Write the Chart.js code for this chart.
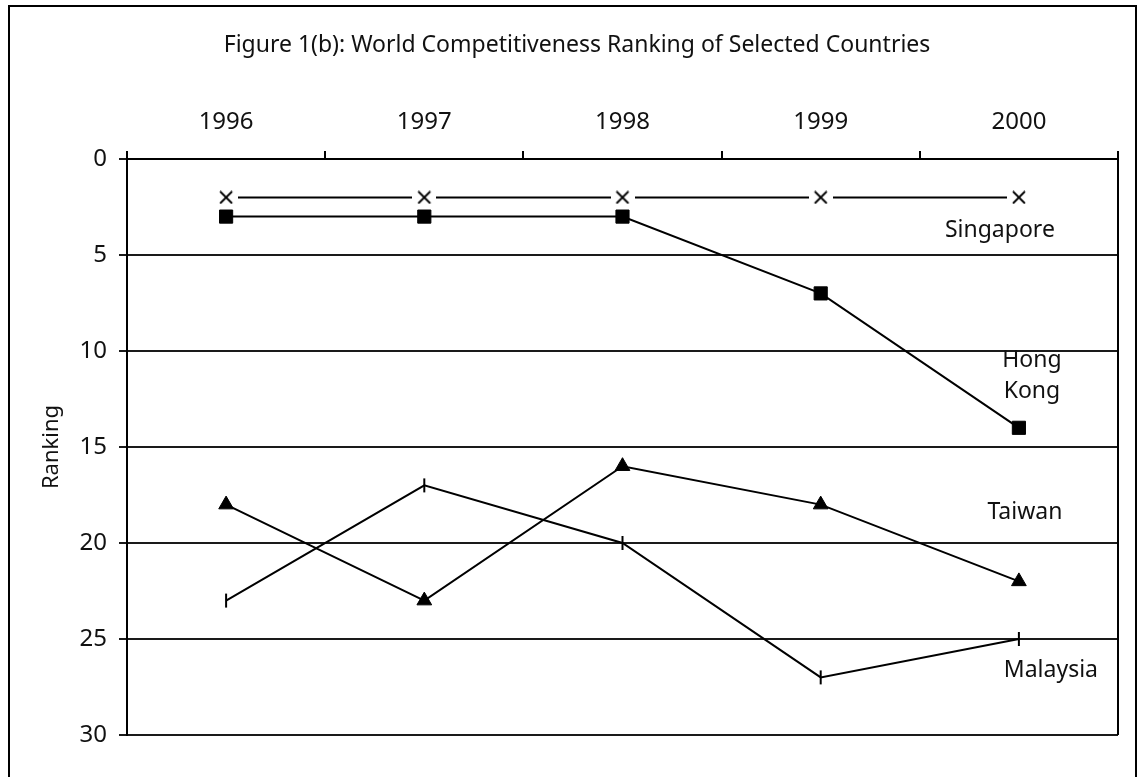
<!DOCTYPE html>
<html>
<head>
<meta charset="utf-8">
<script src="https://cdn.jsdelivr.net/npm/chart.js@4/dist/chart.umd.min.js"></script>
<style>
  html, body { margin: 0; padding: 0; background: #fff; }
  #wrap { width: 1140px; height: 777px; position: relative; }
</style>
</head>
<body>
<div id="wrap"><canvas id="chart" width="1140" height="777"></canvas></div>
<script>
// Categories (years) and ranking per country
const years = ['1996', '1997', '1998', '1999', '2000'];
const singapore = [2, 2, 2, 2, 2];
const hongKong = [3, 3, 3, 7, 14];
const taiwan = [18, 23, 16, 18, 22];
const malaysia = [23, 17, 20, 27, 25];

// Ranking axis range
const rankMin = 0;
const rankMax = 30;
const rankStep = 5;

const chartTitle = 'Figure 1(b): World Competitiveness Ranking of Selected Countries';
const axisTitle = 'Ranking';

// Country names written beside the last point of each line
const seriesNames = [['Singapore'], ['Hong', 'Kong'], ['Taiwan'], ['Malaysia']];

const FONT = '"Noto Sans", "DejaVu Sans", sans-serif';
const INK = '#000';

// Cross marker on a white backing so the line stops short of it
function crossMarker() {
  const c = document.createElement('canvas');
  c.width = 24; c.height = 14;
  const g = c.getContext('2d');
  g.fillStyle = '#fff';
  g.fillRect(0, 0, c.width, c.height);
  g.strokeStyle = INK;
  g.lineWidth = 1.8;
  g.beginPath();
  g.moveTo(12 - 6, 7 - 6); g.lineTo(12 + 6, 7 + 6);
  g.moveTo(12 + 6, 7 - 6); g.lineTo(12 - 6, 7 + 6);
  g.stroke();
  return c;
}

// Outer frame of the figure
const framePlugin = {
  id: 'frame',
  beforeDraw(chart) {
    const ctx = chart.ctx;
    ctx.save();
    ctx.fillStyle = '#fff';
    ctx.fillRect(0, 0, chart.width, chart.height);
    ctx.strokeStyle = INK;
    ctx.lineWidth = 2;
    ctx.strokeRect(9, 6, 1127, 820);
    ctx.restore();
  }
};

// Title, right edge of plot, and country labels
const decorPlugin = {
  id: 'decor',
  afterDatasetsDraw(chart, args, opts) {
    const ctx = chart.ctx;
    const area = chart.chartArea;
    const xs = chart.scales.x, ys = chart.scales.y;
    ctx.save();
    ctx.strokeStyle = INK;
    ctx.lineWidth = 2;
    ctx.beginPath();
    ctx.moveTo(area.right, area.top - 8);
    ctx.lineTo(area.right, area.bottom);
    ctx.stroke();

    ctx.fillStyle = '#111';
    ctx.textAlign = 'center';
    ctx.textBaseline = 'alphabetic';
    ctx.font = '23px ' + FONT;
    ctx.fillText(chartTitle, opts.titleX, opts.titleY);

    opts.labels.forEach((lab, i) => {
      const lines = seriesNames[i];
      const x = xs.getPixelForValue(lab.index) + lab.dx;
      lines.forEach((t, j) => {
        ctx.fillText(t, x, ys.getPixelForValue(lab.at[j]));
      });
    });
    ctx.restore();
  }
};

const lineBase = {
  borderColor: INK,
  backgroundColor: INK,
  borderWidth: 2,
  tension: 0,
  pointBorderColor: INK,
  pointBackgroundColor: INK,
  clip: false
};

new Chart(document.getElementById('chart'), {
  type: 'line',
  data: {
    labels: years,
    datasets: [
      Object.assign({}, lineBase, { label: 'Singapore', data: singapore, pointStyle: crossMarker(), pointRadius: 10 }),
      Object.assign({}, lineBase, { label: 'Hong Kong', data: hongKong, pointStyle: 'rect', pointRadius: 9.3, pointBorderWidth: 1 }),
      Object.assign({}, lineBase, { label: 'Taiwan', data: taiwan, pointStyle: 'triangle', pointRadius: 8.5, pointBorderWidth: 1 }),
      Object.assign({}, lineBase, { label: 'Malaysia', data: malaysia, pointStyle: 'line', pointRotation: 90, pointRadius: 7, pointBorderWidth: 2 })
    ]
  },
  options: {
    responsive: false,
    animation: false,
    devicePixelRatio: 1,
    events: [],
    layout: { padding: { left: 0, top: 0, right: 22, bottom: 42 } },
    plugins: {
      legend: { display: false },
      tooltip: { enabled: false },
      title: { display: false },
      decor: {
        titleX: 577,
        titleY: 52,
        labels: [
          { index: 4, dx: -19, at: [4.06] },
          { index: 4, dx: 13, at: [10.83, 12.45] },
          { index: 4, dx: 6, at: [18.75] },
          { index: 4, dx: 32, at: [26.98] }
        ]
      }
    },
    scales: {
      x: {
        type: 'category',
        position: 'top',
        offset: true,
        afterFit(s) { s.height = 159; },
        grid: { offset: true, drawOnChartArea: false, drawTicks: true, tickLength: 8, color: INK, lineWidth: 2 },
        border: { display: true, color: INK, width: 2 },
        ticks: { color: '#111', font: { family: FONT, size: 24 }, padding: 14, maxRotation: 0 }
      },
      y: {
        reverse: true,
        min: rankMin,
        max: rankMax,
        afterFit(s) { s.width = 127; },
        grid: { color: '#1a1a1a', lineWidth: 2, tickLength: 8, drawTicks: true },
        border: { display: true, color: INK, width: 2 },
        ticks: { stepSize: rankStep, color: '#111', font: { family: FONT, size: 24 }, padding: 12 },
        title: { display: true, text: axisTitle, color: '#111', font: { family: FONT, size: 22 }, padding: { top: 39, bottom: 0 } }
      }
    }
  },
  plugins: [framePlugin, decorPlugin]
});
</script>
</body>
</html>
